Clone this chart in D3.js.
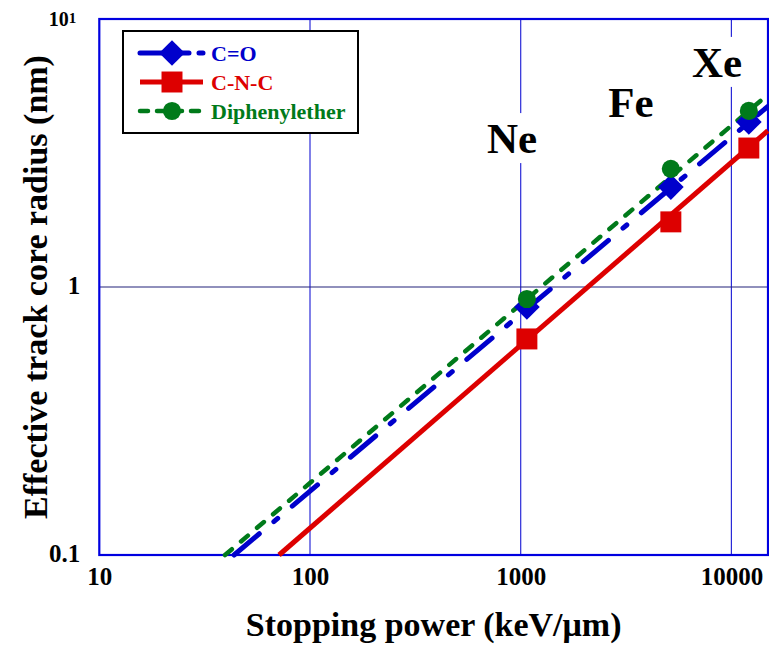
<!DOCTYPE html>
<html>
<head>
<meta charset="utf-8">
<script src="https://cdn.jsdelivr.net/npm/d3@7"></script>
<style>
  html, body { margin: 0; padding: 0; background: #fff; }
  svg { display: block; }
  text { font-family: "Liberation Serif", "Times New Roman", serif; font-weight: bold; }
</style>
</head>
<body>
<svg id="chart" width="769" height="645"></svg>
<script>
// Measured points: ion, stopping power (keV/um), effective core radius (nm)
const ions = ["Ne", "Fe", "Xe"];
const stoppingPower = [1070, 5160, 12100];
const radiusCO = [0.842, 2.36, 4.13];
const radiusCNC = [0.640, 1.75, 3.30];
const radiusDPE = [0.902, 2.76, 4.54];

// Power-law fit lines, given by their end points [stopping power, radius]
const fitCO = [[43.6, 0.1], [14900, 4.72]];
const fitCNC = [[71.3, 0.1], [14900, 3.83]];
const fitDPE = [[39.5, 0.1], [14900, 5.22]];

const seriesNames = ["C=O", "C-N-C", "Diphenylether"];
const xTickValues = [10, 100, 1000, 10000];
const xTickLabels = ["10", "100", "1000", "10000"];
const yTickValues = [0.1, 1, 10];
const yTickLabels = ["0.1", "1", "10^1"];

const series = [
  { name: seriesNames[0], values: radiusCO, fit: fitCO, color: "#0000cc",
    dash: "33,19,5,19", width: 5, symbol: d3.symbolSquare, size: 330, rotate: 45 },
  { name: seriesNames[1], values: radiusCNC, fit: fitCNC, color: "#dd0000",
    dash: null, width: 5, symbol: d3.symbolSquare, size: 440, rotate: 0 },
  { name: seriesNames[2], values: radiusDPE, fit: fitDPE, color: "#007a1a",
    dash: "9,12", width: 4.5, symbol: d3.symbolCircle, size: 260, rotate: 0 }
];

const svg = d3.select("#chart");
svg.append("rect").attr("width", 769).attr("height", 645).attr("fill", "#fff");

const x = d3.scaleLog().domain([10, 10000]).range([99.3, 731.4]);
const y = d3.scaleLog().domain([0.1, 10]).range([555, 19]);
const plotLeft = x(10), plotRight = 768, plotTop = y(10), plotBottom = y(0.1);

const plot = svg.append("g");

// Grid lines at each decade
plot.selectAll("line.vgrid")
  .data(xTickValues.filter(v => v > 10))
  .join("line")
  .attr("class", "vgrid")
  .attr("x1", d => x(d)).attr("x2", d => x(d))
  .attr("y1", plotTop).attr("y2", plotBottom)
  .attr("stroke", "#2a2ad8").attr("stroke-width", 1.2);

plot.selectAll("line.hgrid")
  .data(yTickValues.filter(v => v > 0.1 && v < 10))
  .join("line")
  .attr("class", "hgrid")
  .attr("x1", plotLeft).attr("x2", plotRight)
  .attr("y1", d => y(d)).attr("y2", d => y(d))
  .attr("stroke", "#22227a").attr("stroke-width", 1.2);

// Plot frame
plot.append("rect")
  .attr("x", plotLeft).attr("y", plotTop)
  .attr("width", plotRight - plotLeft).attr("height", plotBottom - plotTop)
  .attr("fill", "none").attr("stroke", "#0000e0").attr("stroke-width", 2.2);

// Ion labels with white boxes
const ionLabelAt = [[910, 3.16], [3335, 4.3], [8550, 6.08]];
ions.forEach((ion, i) => {
  const g = svg.append("g");
  const t = g.append("text")
    .attr("x", x(ionLabelAt[i][0])).attr("y", y(ionLabelAt[i][1]))
    .attr("text-anchor", "middle")
    .attr("font-size", 43)
    .attr("fill", "#000")
    .text(ion);
  const b = t.node().getBBox();
  g.insert("rect", "text")
    .attr("x", b.x - 3).attr("y", b.y - 2)
    .attr("width", b.width + 6).attr("height", b.height + 3)
    .attr("fill", "#fff");
});

// Fit lines
const line = d3.line().x(d => x(d[0])).y(d => y(d[1]));
series.forEach(s => {
  svg.append("path")
    .datum(s.fit)
    .attr("d", line)
    .attr("fill", "none")
    .attr("stroke", s.color)
    .attr("stroke-width", s.width)
    .attr("stroke-linecap", s.dash ? "round" : "butt")
    .attr("stroke-dasharray", s.dash);
});

// Data markers
series.forEach(s => {
  svg.append("g").selectAll("path")
    .data(s.values.map((v, i) => [stoppingPower[i], v]))
    .join("path")
    .attr("transform", d => `translate(${x(d[0])},${y(d[1])}) rotate(${s.rotate})`)
    .attr("d", d3.symbol().type(s.symbol).size(s.size))
    .attr("fill", s.color);
});

// Axis tick labels
const xAxis = d3.axisBottom(x)
  .tickValues(xTickValues)
  .tickFormat((d, i) => xTickLabels[i])
  .tickSize(0).tickPadding(0);
const gx = svg.append("g").attr("transform", `translate(0,${plotBottom})`).call(xAxis);
gx.select(".domain").remove();
gx.selectAll("text")
  .attr("y", 30).attr("dy", null)
  .attr("font-size", 25).attr("font-family", null).attr("fill", "#000");

const yAxis = d3.axisLeft(y)
  .tickValues(yTickValues)
  .tickFormat("")
  .tickSize(0);
const gy = svg.append("g").attr("transform", `translate(${plotLeft},0)`).call(yAxis);
gy.select(".domain").remove();
gy.selectAll(".tick").each(function(d, i) {
  const lab = yTickLabels[i];
  const t = d3.select(this).append("text")
    .attr("x", -19)
    .attr("text-anchor", "end")
    .attr("fill", "#000")
    .attr("font-family", null);
  if (lab.includes("^")) {
    const [base, exp] = lab.split("^");
    t.attr("y", 6).attr("font-size", 20);
    t.append("tspan").text(base);
    t.append("tspan").attr("font-size", 15).attr("dy", -3).text(exp);
    t.attr("x", -23);
  } else {
    t.attr("y", 6).attr("font-size", 25).text(lab);
  }
});

// Axis titles
svg.append("text")
  .attr("x", (plotLeft + plotRight) / 2 + 0).attr("y", 636)
  .attr("text-anchor", "middle")
  .attr("font-size", 34)
  .attr("fill", "#000")
  .text("Stopping power (keV/\u03bcm)");

svg.append("text")
  .attr("transform", `translate(47,${y(1)}) rotate(-90)`)
  .attr("text-anchor", "middle")
  .attr("font-size", 34)
  .attr("fill", "#000")
  .text("Effective track core radius (nm)");

// Legend
const legend = svg.append("g");
legend.append("rect")
  .attr("x", 123).attr("y", 31).attr("width", 235).attr("height", 102)
  .attr("fill", "#fff").attr("stroke", "#000").attr("stroke-width", 2);

const rowY = [53, 82, 111];
const legendDash = ["49,10,5,30", null, "8,9"];
series.forEach((s, i) => {
  const g = legend.append("g").attr("transform", `translate(0,${rowY[i]})`);
  g.append("line")
    .attr("x1", 140).attr("x2", 203).attr("y1", 0).attr("y2", 0)
    .attr("stroke", s.color).attr("stroke-width", s.width)
    .attr("stroke-linecap", legendDash[i] ? "round" : "butt")
    .attr("stroke-dasharray", legendDash[i]);
  g.append("path")
    .attr("transform", `translate(172,0) rotate(${s.rotate})`)
    .attr("d", d3.symbol().type(s.symbol).size(s.size))
    .attr("fill", s.color);
  g.append("text")
    .attr("x", 211).attr("y", 8)
    .attr("font-size", 22)
    .attr("fill", s.color)
    .text(s.name);
});
</script>
</body>
</html>
